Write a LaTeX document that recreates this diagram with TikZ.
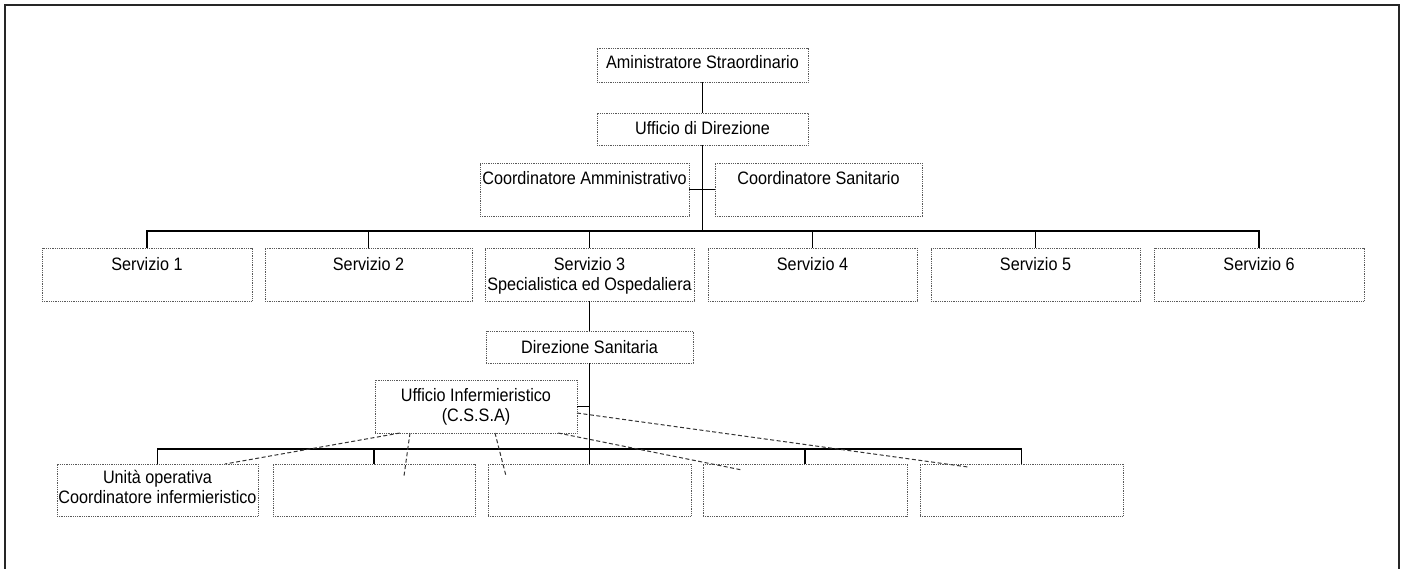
\documentclass[tikz,border=0pt]{standalone}
\usepackage{fontspec}
\setmainfont{Liberation Sans}[FakeStretch=0.9]
\usetikzlibrary{calc}
\newcommand{\boxtext}[4]{\parbox[c][#2][t]{#1}{\centering\lineskiplimit=-20pt\vspace*{#3}\rule{0pt}{13pt}#4}}
\tikzset{
  orgbox/.style={draw=black!65, line width=0.8pt, dash pattern=on 0.9pt off 0.9pt, inner sep=0pt, outer sep=0pt, rectangle,
    font=\fontsize{18}{20.5}\selectfont},
  link/.style={draw=black, line width=1.1pt},
  dashlink/.style={draw=black!80, line width=1pt, dash pattern=on 4pt off 2.5pt},
  frameline/.style={draw=black!85, line width=2.2pt}
}
\begin{document}
\begin{tikzpicture}[x=1pt,y=-1pt]
\useasboundingbox (0,0) rectangle (1406,568);
\draw[frameline] (5,570) -- (5,5) -- (1399,5) -- (1399,570);

% top
\node[orgbox] (A) at (702.5,65) {\boxtext{211pt}{34pt}{7.5pt}{Aministratore Straordinario}};
\node[orgbox] (U) at (702.5,129) {\boxtext{211pt}{32pt}{8pt}{Ufficio di Direzione}};
\node[orgbox] (CA) at (584.5,189.5) {\boxtext{209pt}{53pt}{8pt}{Coordinatore Amministrativo}};
\node[orgbox] (CS) at (818.5,189.5) {\boxtext{207pt}{53pt}{8pt}{Coordinatore Sanitario}};

% servizi
\node[orgbox] (S1) at (147,274.5) {\boxtext{210pt}{53pt}{9pt}{Servizio 1}};
\node[orgbox] (S2) at (368.5,274.5) {\boxtext{207pt}{53pt}{9pt}{Servizio 2}};
\node[orgbox] (S3) at (589.5,274.5) {\boxtext{209pt}{53pt}{9pt}{Servizio 3\\Specialistica ed Ospedaliera}};
\node[orgbox] (S4) at (812.5,274.5) {\boxtext{209pt}{53pt}{9pt}{Servizio 4}};
\node[orgbox] (S5) at (1035.5,274.5) {\boxtext{209pt}{53pt}{9pt}{Servizio 5}};
\node[orgbox] (S6) at (1259,274.5) {\boxtext{210pt}{53pt}{9pt}{Servizio 6}};

% lower
\node[orgbox] (DS) at (589.5,347) {\boxtext{207pt}{32pt}{9pt}{Direzione Sanitaria}};
\node[orgbox] (UI) at (476,406.5) {\boxtext{202pt}{53pt}{8pt}{Ufficio Infermieristico\\(C.S.S.A)}};

\node[orgbox] (B1) at (157.5,490) {\boxtext{201pt}{52pt}{6pt}{Unità operativa\\Coordinatore infermieristico}};
\node[orgbox] (B2) at (374,490) {\boxtext{202pt}{52pt}{6pt}{}};
\node[orgbox] (B3) at (589.5,490) {\boxtext{203pt}{52pt}{6pt}{}};
\node[orgbox] (B4) at (805,490) {\boxtext{204pt}{52pt}{6pt}{}};
\node[orgbox] (B5) at (1021.5,490) {\boxtext{203pt}{52pt}{6pt}{}};

% connectors
\coordinate (j1) at (702.5,231);
\coordinate (j2) at (589.5,449);
\draw[link] (A) -- (U);
\draw[link] (U) -- (j1);
\draw[link] (CA.east) -- (CS.west);
\draw[link] (S1.north) |- (j1) -| (S6.north);
\foreach \s in {S2,S3,S4,S5} \draw[link] (\s.north) -- (\s.north |- j1);
\draw[link] (S3) -- (DS);
\draw[link] (DS.south) -- (B3.north);
\draw[link] (UI.east) -- (UI.east -| DS.south);
\draw[link] (B1.north) |- (j2) -| (B5.north);
\foreach \s in {B2,B4} \draw[link] (\s.north) -- (\s.north |- j2);

% dashed
\coordinate (e1) at (225,464);
\coordinate (e2) at (404,476);
\coordinate (e3) at (506,476);
\coordinate (e4) at (742,470);
\coordinate (e5) at (968,467);
\draw[dashlink] ($(UI.south west)+(25,0)$) -- (e1);
\draw[dashlink] ($(UI.south west)+(35,0)$) -- (e2);
\draw[dashlink] ($(UI.south west)+(120,0)$) -- (e3);
\draw[dashlink] ($(UI.south west)+(183,0)$) -- (e4);
\draw[dashlink] ($(UI.east)+(0,6.5)$) -- (e5);
\end{tikzpicture}
\end{document}
